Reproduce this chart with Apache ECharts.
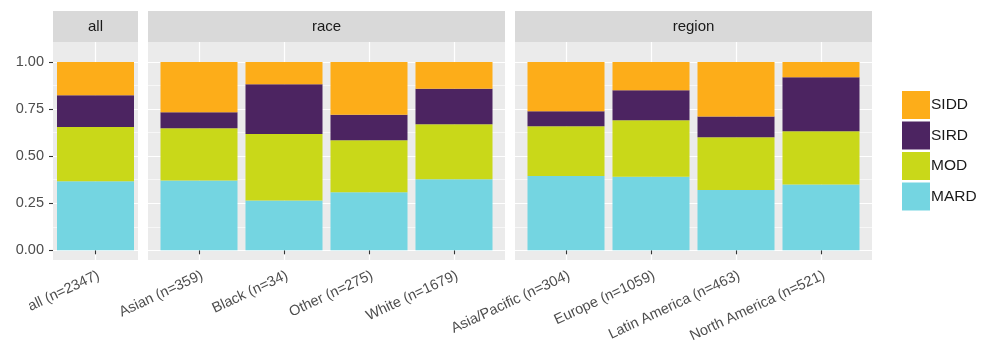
<!DOCTYPE html>
<html>
<head>
<meta charset="utf-8">
<script src="https://cdn.jsdelivr.net/npm/echarts@6/dist/echarts.min.js"></script>
<style>
html,body{margin:0;padding:0;background:#fff;}
#c{width:988px;height:348px;}
</style>
</head>
<body>
<div id="c"></div>
<script>
// ---- data ----
const panels = ['all', 'race', 'region'];
const catsAll = ['all (n=2347)'];
const catsRace = ['Asian (n=359)', 'Black (n=34)', 'Other (n=275)', 'White (n=1679)'];
const catsRegion = ['Asia/Pacific (n=304)', 'Europe (n=1059)', 'Latin America (n=463)', 'North America (n=521)'];
const seriesNames = ['MARD', 'MOD', 'SIRD', 'SIDD'];
// proportions per category (stack bottom -> top)
const MARD_all = [0.366];
const MOD_all = [0.289];
const SIRD_all = [0.168];
const SIDD_all = [0.177];
const MARD_race = [0.370, 0.265, 0.308, 0.377];
const MOD_race = [0.278, 0.353, 0.276, 0.292];
const SIRD_race = [0.085, 0.264, 0.136, 0.189];
const SIDD_race = [0.267, 0.118, 0.280, 0.142];
const MARD_region = [0.395, 0.391, 0.320, 0.349];
const MOD_region = [0.263, 0.299, 0.280, 0.283];
const SIRD_region = [0.080, 0.160, 0.110, 0.287];
const SIDD_region = [0.262, 0.150, 0.290, 0.081];
const yTicks = [0, 0.25, 0.5, 0.75, 1];
const yMinor = [0.125, 0.375, 0.625, 0.875];

// ---- styling / layout ----
const colors = {MARD: '#74D5E1', MOD: '#C9D819', SIRD: '#4C2461', SIDD: '#FDAD19'};
const font = 'Liberation Sans, Arial, sans-serif';
const panelTop = 42, panelH = 218, stripTop = 11, stripH = 31;
const layout = [
  {left: 53, width: 85, min: 0.5, max: 1.5},
  {left: 148, width: 357, min: 0.4, max: 4.6},
  {left: 515, width: 357, min: 0.4, max: 4.6}
];
const yMin = -0.0515, yMax = 1.106;
const catLists = [catsAll, catsRace, catsRegion];
const dataSets = [
  {MARD: MARD_all, MOD: MOD_all, SIRD: SIRD_all, SIDD: SIDD_all},
  {MARD: MARD_race, MOD: MOD_race, SIRD: SIRD_race, SIDD: SIDD_race},
  {MARD: MARD_region, MOD: MOD_region, SIRD: SIRD_region, SIDD: SIDD_region}
];

const grid = [], xAxis = [], yAxis = [], series = [], graphic = [];
// outer grids: background, grid lines, ticks, labels
panels.forEach((p, i) => {
  const L = layout[i];
  const cats = catLists[i];
  const pos = cats.map((c, k) => k + 1);
  grid.push({left: L.left, top: panelTop, width: L.width, height: panelH,
    show: true, backgroundColor: '#EBEBEB', borderWidth: 0, containLabel: false});
  xAxis.push({type: 'value', gridIndex: i, min: L.min, max: L.max,
    axisLine: {show: false},
    axisTick: {show: true, customValues: pos, length: 4, lineStyle: {color: '#333333', width: 1.1}},
    axisLabel: {customValues: pos, formatter: v => cats[Math.round(v) - 1] || '',
      rotate: 25, align: 'right', verticalAlign: 'top', margin: 8,
      color: '#4D4D4D', fontSize: 14.5, fontFamily: font},
    splitLine: {show: true, lineStyle: {color: '#FFFFFF', width: 1.2}}
  });
  yAxis.push({type: 'value', gridIndex: i, min: yMin, max: yMax,
    axisLine: {show: false},
    axisTick: {show: i === 0, customValues: yTicks, length: 4, lineStyle: {color: '#333333', width: 1.1}},
    axisLabel: {show: i === 0, customValues: yTicks, formatter: v => v.toFixed(2), margin: 9,
      color: '#4D4D4D', fontSize: 14.5, fontFamily: font},
    splitLine: {show: true, lineStyle: {color: '#FFFFFF', width: 1.2}}
  });
  graphic.push({type: 'rect', left: L.left, top: stripTop, silent: true,
    shape: {width: L.width, height: stripH}, style: {fill: '#D9D9D9'}});
  graphic.push({type: 'text', x: L.left + L.width / 2, y: stripTop + stripH / 2, silent: true,
    style: {text: p, fill: '#1A1A1A', font: '15px ' + font, textAlign: 'center', textVerticalAlign: 'middle'}});
});
// minor y gridlines
panels.forEach((p, i) => {
  yAxis.push({type: 'value', gridIndex: i, min: yMin, max: yMax, position: 'right',
    axisLine: {show: false}, axisLabel: {show: false},
    axisTick: {show: false, customValues: yMinor},
    splitLine: {show: true, lineStyle: {color: '#FFFFFF', width: 0.6}}
  });
});
// inner grids: stacked bars on category axes
panels.forEach((p, i) => {
  const L = layout[i];
  const cats = catLists[i];
  const unit = L.width / (L.max - L.min);
  const pad = (1 - L.min - 0.5) * unit; // distance from panel edge to first band
  const gi = grid.length;
  grid.push({left: L.left + pad, top: panelTop, width: L.width - 2 * pad, height: panelH, show: false});
  const xi = xAxis.length;
  xAxis.push({type: 'category', gridIndex: gi, data: cats, show: false, boundaryGap: true});
  const yi = yAxis.length;
  yAxis.push({type: 'value', gridIndex: gi, min: yMin, max: yMax, show: false, splitLine: {show: false}});
  seriesNames.forEach(s => {
    series.push({name: s, type: 'bar', stack: 'st' + i, xAxisIndex: xi, yAxisIndex: yi,
      barWidth: 77, itemStyle: {color: colors[s]},
      data: dataSets[i][s]});
  });
});

const chart = echarts.init(document.getElementById('c'), null, {renderer: 'canvas'});
chart.setOption({
  animation: false,
  backgroundColor: '#FFFFFF',
  grid, xAxis, yAxis, series, graphic,
  legend: {data: ['SIDD', 'SIRD', 'MOD', 'MARD'], orient: 'vertical', left: 902, top: 91, padding: 0,
    icon: 'rect', itemWidth: 28, itemHeight: 28, itemGap: 2.5,
    textStyle: {color: '#1A1A1A', fontSize: 15.5, fontFamily: font, padding: [0, 0, 0, -4]},
    selectedMode: false}
});
</script>
</body>
</html>
